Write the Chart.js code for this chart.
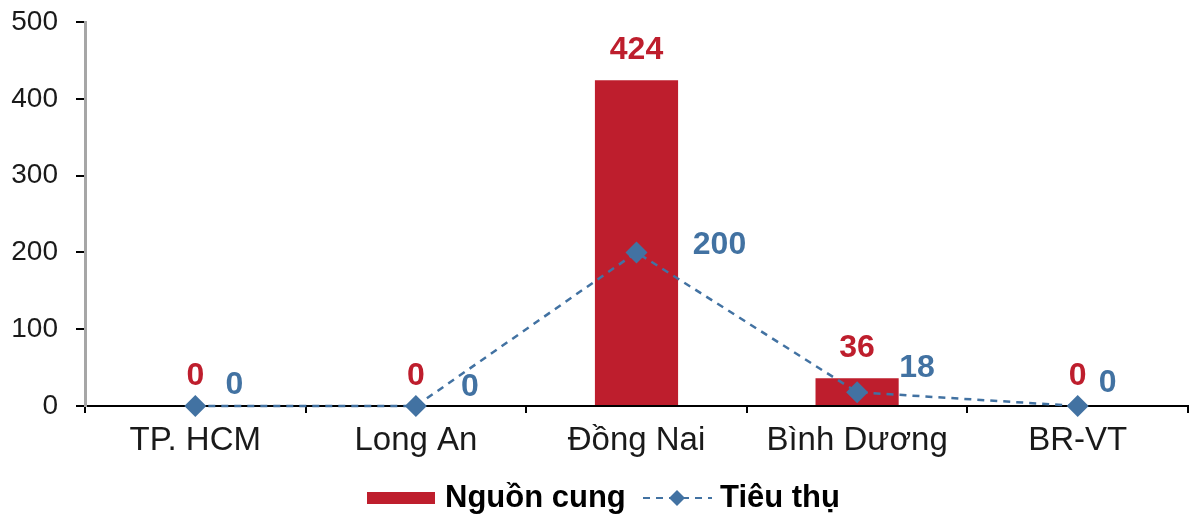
<!DOCTYPE html>
<html lang="vi">
<head>
<meta charset="utf-8">
<title>Nguồn cung và Tiêu thụ</title>
<script src="https://cdn.jsdelivr.net/npm/chart.js@4.4.1/dist/chart.umd.min.js"></script>
<style>
  html, body { margin: 0; padding: 0; background: #ffffff; }
  #wrap { width: 1189px; height: 517px; position: relative; }
</style>
</head>
<body>
<div id="wrap"><canvas id="chart" width="1189" height="517"></canvas></div>
<script>
// Provinces and the two series
const categories = ['TP. HCM', 'Long An', 'Đồng Nai', 'Bình Dương', 'BR-VT'];
const supplyValues = [0, 0, 424, 36, 0];
const consumptionValues = [0, 0, 200, 18, 0];
const yTicks = [0, 100, 200, 300, 400, 500];
const seriesNames = ['Nguồn cung', 'Tiêu thụ'];

const RED = '#BE1E2D';
const BLUE = '#4272A2';
const FONT = '"Liberation Sans", Arial, sans-serif';

// Value labels: red above the bars, blue beside the markers
const valueLabels = {
  id: 'valueLabels',
  afterDatasetsDraw(chart, args, opts) {
    const ctx = chart.ctx;
    ctx.save();
    ctx.font = 'bold 32px ' + FONT;
    ctx.textAlign = 'center';
    ctx.textBaseline = 'middle';
    const bars = chart.getDatasetMeta(0).data;
    bars.forEach((el, i) => {
      ctx.fillStyle = RED;
      ctx.fillText(String(supplyValues[i]), el.x, el.y - 30);
    });
    const pts = chart.getDatasetMeta(1).data;
    pts.forEach((el, i) => {
      const off = opts.lineOffsets[i];
      ctx.fillStyle = BLUE;
      ctx.fillText(String(consumptionValues[i]), el.x + off[0], el.y + off[1]);
    });
    ctx.restore();
  }
};

// Legend row under the category labels
const bottomLegend = {
  id: 'bottomLegend',
  afterDraw(chart) {
    const ctx = chart.ctx;
    const cy = 498;
    ctx.save();
    ctx.fillStyle = RED;
    ctx.fillRect(367, 492, 68, 12);
    ctx.font = 'bold 31px ' + FONT;
    ctx.textBaseline = 'middle';
    ctx.textAlign = 'left';
    ctx.fillStyle = '#000000';
    ctx.fillText(seriesNames[0], 445, cy);
    ctx.strokeStyle = BLUE;
    ctx.lineWidth = 2;
    ctx.setLineDash([7, 6]);
    ctx.beginPath();
    ctx.moveTo(643, cy);
    ctx.lineTo(712, cy);
    ctx.stroke();
    ctx.setLineDash([]);
    ctx.fillStyle = BLUE;
    ctx.beginPath();
    ctx.moveTo(677, cy - 8);
    ctx.lineTo(685, cy);
    ctx.lineTo(677, cy + 8);
    ctx.lineTo(669, cy);
    ctx.closePath();
    ctx.fill();
    ctx.fillStyle = '#000000';
    ctx.fillText(seriesNames[1], 720, cy);
    ctx.restore();
  }
};

new Chart(document.getElementById('chart'), {
  data: {
    labels: categories,
    datasets: [
      {
        type: 'bar',
        label: seriesNames[0],
        data: supplyValues,
        backgroundColor: RED,
        borderWidth: 0,
        categoryPercentage: 1,
        barPercentage: 0.377,
        order: 1
      },
      {
        type: 'line',
        label: seriesNames[1],
        data: consumptionValues,
        borderColor: BLUE,
        borderWidth: 2.5,
        borderDash: [7, 6],
        backgroundColor: BLUE,
        pointStyle: 'rectRot',
        pointRadius: 11,
        pointBorderWidth: 0,
        pointBackgroundColor: BLUE,
        tension: 0,
        clip: false,
        order: 0
      }
    ]
  },
  options: {
    responsive: false,
    animation: false,
    devicePixelRatio: 1,
    layout: { autoPadding: false, padding: { top: 22, right: 1, left: 0, bottom: 0 } },
    plugins: {
      legend: { display: false },
      tooltip: { enabled: false },
      valueLabels: {
        lineOffsets: [[39, -21], [54, -19], [83, -7], [60, -24], [30, -23]]
      }
    },
    scales: {
      x: {
        offset: true,
        grid: {
          offset: true,
          drawOnChartArea: false,
          drawTicks: true,
          tickLength: 7,
          color: '#000000',
          lineWidth: 2
        },
        border: { display: true, color: '#000000', width: 2 },
        ticks: {
          color: '#1a1a1a',
          font: { family: FONT, size: 33 },
          padding: 8,
          maxRotation: 0,
          autoSkip: false
        },
        afterFit(scale) {
          scale.height = 111;
          scale.paddingLeft = 0;
          scale.paddingRight = 0;
        }
      },
      y: {
        min: 0,
        max: 500,
        afterBuildTicks(scale) { scale.ticks = yTicks.map(v => ({ value: v })); },
        grid: {
          drawOnChartArea: false,
          drawTicks: true,
          tickLength: 9,
          color: '#000000',
          lineWidth: 2
        },
        border: { display: true, color: '#A6A6A6', width: 3 },
        ticks: {
          color: '#1a1a1a',
          font: { family: FONT, size: 28 },
          padding: 18
        },
        afterFit(scale) {
          scale.width = 85;
          scale.paddingTop = 0;
          scale.paddingBottom = 0;
        }
      }
    }
  },
  plugins: [valueLabels, bottomLegend]
});
</script>
</body>
</html>
